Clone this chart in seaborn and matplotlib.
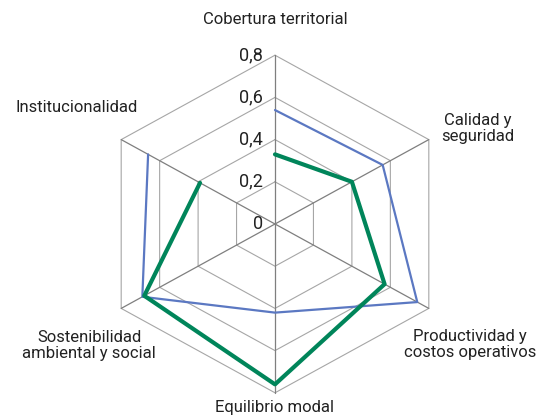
import numpy as np
import pandas as pd
import matplotlib
matplotlib.use('Agg')
import matplotlib.pyplot as plt
import seaborn as sns

# datos
categorias = ['Cobertura territorial', 'Calidad y\nseguridad', 'Productividad y\ncostos operativos',
              'Equilibrio modal', 'Sostenibilidad\nambiental y social', 'Institucionalidad']
serie_azul = [0.54, 0.56, 0.74, 0.42, 0.69, 0.66]
serie_verde = [0.33, 0.40, 0.57, 0.76, 0.68, 0.39]
ticks = [0, 0.2, 0.4, 0.6, 0.8]
tick_labels = ['0', '0,2', '0,4', '0,6', '0,8']

sns.set_style('white')
plt.rcParams['font.family'] = ['Roboto', 'DejaVu Sans']

n = len(categorias)
ang = np.deg2rad(90 - 60 * np.arange(n))  # sentido horario desde arriba


def xy(vals):
    v = np.asarray(vals)
    x, y = v * np.cos(ang), v * np.sin(ang)
    return np.append(x, x[0]), np.append(y, y[0])


fig = plt.figure(figsize=(5.4, 4.2), dpi=100)
ax = fig.add_axes([0, 0, 1, 1])
ax.set_xlim(-275 / 222, 265 / 222)
ax.set_ylim(-196 / 211, 224 / 211)
ax.axis('off')

# rejilla hexagonal
rmax = ticks[-1]
for t in ticks[1:]:
    gx, gy = xy([t] * n)
    ax.plot(gx, gy, color='#a6a6a6', lw=0.8, zorder=1)
for a in ang:
    ax.plot([0, rmax * np.cos(a)], [0, rmax * np.sin(a)], color='#7f7f7f', lw=0.9, zorder=1)

# series
for vals, col, lw in [(serie_azul, '#5b78c2', 1.6), (serie_verde, '#00855a', 3.0)]:
    px, py = xy(vals)
    df = pd.DataFrame({'x': px, 'y': py, 'orden': range(len(px))})
    sns.lineplot(data=df, x='x', y='y', sort=False, color=col, lw=lw, ax=ax, zorder=3)

# etiquetas radiales
for t, lab in zip(ticks, tick_labels):
    ax.annotate(lab, (0, t), xytext=(-12, 0), textcoords='offset pixels',
                ha='right', va='center', fontsize=13, color='#222222', zorder=4)

# etiquetas de categorias
offsets = [(0, 36, 'center', 'center'), (49, 11, 'center', 'center'), (41, -36, 'center', 'center'),
           (0, -7, 'center', 'top'), (-32, -37, 'center', 'center'), (-45, 32, 'center', 'center')]
for cat, a, (dx, dy, ha, va) in zip(categorias, ang, offsets):
    ax.annotate(cat, (rmax * np.cos(a), rmax * np.sin(a)), xytext=(dx, dy), textcoords='offset pixels',
                ha=ha, va=va, fontsize=12, color='#222222', linespacing=1.05)

fig.savefig('out.png', dpi=100)
